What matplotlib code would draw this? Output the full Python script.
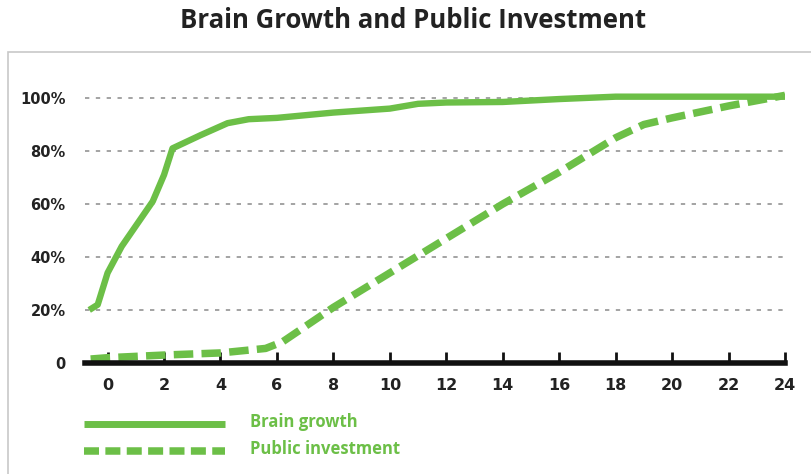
import matplotlib
matplotlib.use("Agg")
import matplotlib.pyplot as plt
from matplotlib.patches import Rectangle
from matplotlib.lines import Line2D

# ---- data ----
brain_x = [-0.65, -0.35, 0.0, 0.5, 1.6, 2.0, 2.3, 3.3, 4.25, 5.0, 6.0, 8.0, 10.0, 11.0, 12.0, 14.0, 16.0, 18.0, 24.0]
brain_y = [20, 22, 34, 44, 61, 71, 81, 86, 90.5, 92, 92.5, 94.5, 96, 97.8, 98.3, 98.5, 99.6, 100.5, 100.5]

invest_x = [-0.6, 0.0, 2.0, 4.0, 5.6, 6.2, 8.0, 10.0, 12.0, 14.0, 16.0, 18.0, 19.0, 20.0, 22.0, 23.5, 24.0]
invest_y = [1.5, 2, 3, 3.8, 5.5, 8, 21, 34, 47, 60, 72, 85, 90, 92.5, 97, 100, 101]

x_ticks = [0, 2, 4, 6, 8, 10, 12, 14, 16, 18, 20, 22, 24]
y_ticks = [0, 20, 40, 60, 80, 100]
y_labels = ["0", "20%", "40%", "60%", "80%", "100%"]

title = "Brain Growth and Public Investment"
series_names = ["Brain growth", "Public investment"]

GREEN = "#6cbf47"
DARK = "#222222"

W, H = 812, 474
fig = plt.figure(figsize=(W / 100, H / 100), dpi=100)
plt.rcParams['font.family'] = ['Open Sans', 'DejaVu Sans']

# outer frame
fig.patches.append(Rectangle((8 / W, -0.1), 1.2, (474 - 52) / H + 0.1,
                             transform=fig.transFigure, fill=False,
                             edgecolor="#c8c8c8", linewidth=1.2))

ax = fig.add_axes([85 / W, 1 - 363 / H, 700 / W, (105 * 2.65) / H])
ax.set_xlim(-0.8, 24)
ax.set_ylim(0, 105)

# gridlines
for yv in y_ticks[1:]:
    ax.axhline(yv, color="#9c9c9c", linewidth=1.3, dashes=(2.4, 3.6), zorder=1)

ax.plot(brain_x, brain_y, color=GREEN, linewidth=4.6, solid_capstyle="butt",
        solid_joinstyle="round", zorder=3)
ax.plot(invest_x, invest_y, color=GREEN, linewidth=5.4, dashes=(2.6, 1.1),
        dash_capstyle="butt", zorder=3)

for s in ["top", "right", "left"]:
    ax.spines[s].set_visible(False)
ax.spines["bottom"].set_linewidth(4)
ax.spines["bottom"].set_color("#111111")
ax.spines["bottom"].set_zorder(4)

ax.set_xticks(x_ticks)
ax.set_xticklabels([str(t) for t in x_ticks], fontsize=11.5, fontweight="bold",
                   color=DARK, family="DejaVu Sans")
ax.tick_params(axis="x", direction="in", length=8, width=2, color="#111111", pad=11)
ax.set_yticks(y_ticks)
ax.set_yticklabels(y_labels, fontsize=10.5, fontweight="bold", color=DARK,
                   family="DejaVu Sans")
ax.tick_params(axis="y", length=0, pad=14)

fig.text(413 / W, 1 - 20 / H, title, ha="center", va="center",
         fontsize=18.5, fontweight="bold", color=DARK)

# legend
fig.lines.append(Line2D([84 / W, 225 / W], [1 - 424 / H] * 2, transform=fig.transFigure,
                        color=GREEN, linewidth=5, solid_capstyle="butt"))
fig.lines.append(Line2D([84 / W, 225 / W], [1 - 451 / H] * 2, transform=fig.transFigure,
                        color=GREEN, linewidth=5.4, dashes=(2.0, 0.85), dash_capstyle="butt"))
fig.text(250 / W, 1 - 422 / H, series_names[0], ha="left", va="center",
         fontsize=12, fontweight="bold", color=GREEN)
fig.text(250 / W, 1 - 449 / H, series_names[1], ha="left", va="center",
         fontsize=12, fontweight="bold", color=GREEN)

fig.savefig("out.png", dpi=100)
